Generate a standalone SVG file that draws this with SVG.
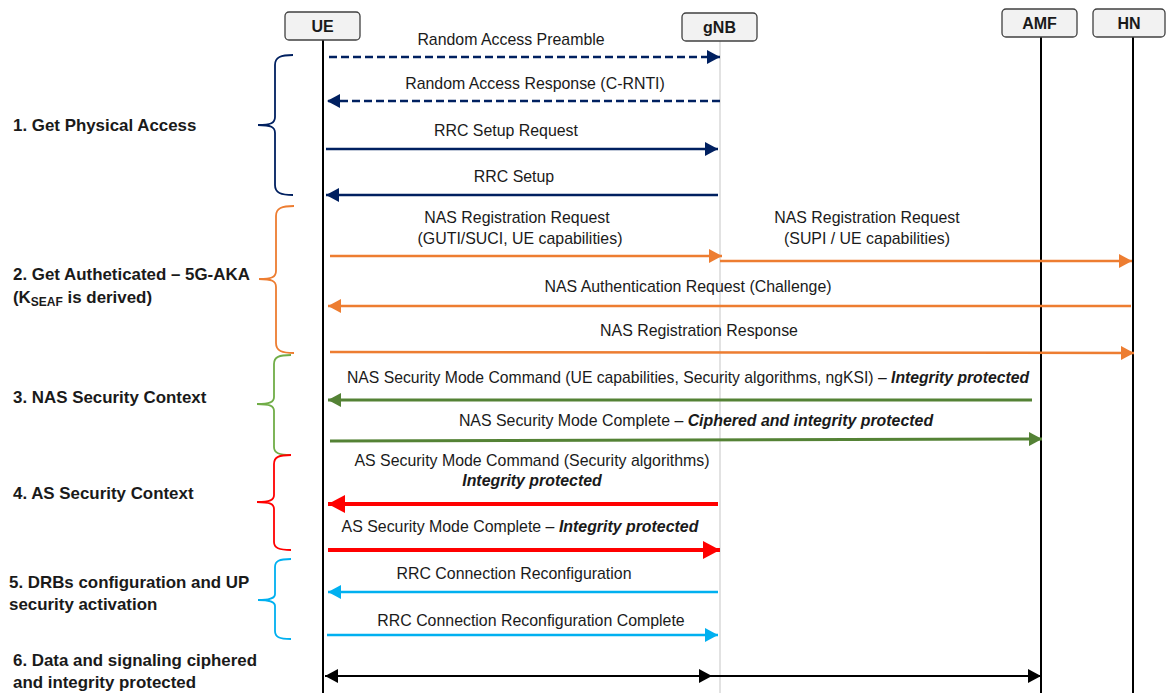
<svg xmlns="http://www.w3.org/2000/svg" width="1166" height="693" viewBox="0 0 1166 693">
  <defs>
    <marker id="ahNavy" markerUnits="userSpaceOnUse" markerWidth="14" markerHeight="14" refX="13" refY="7" orient="auto"><path d="M0,0 L13,7 L0,14 Z" fill="#002060"/></marker>
    <marker id="ahOrange" markerUnits="userSpaceOnUse" markerWidth="14" markerHeight="14" refX="13" refY="7" orient="auto"><path d="M0,0 L13,7 L0,14 Z" fill="#ed7d31"/></marker>
    <marker id="ahGreen" markerUnits="userSpaceOnUse" markerWidth="14" markerHeight="14" refX="13" refY="7" orient="auto"><path d="M0,0 L13,7 L0,14 Z" fill="#548235"/></marker>
    <marker id="ahRed" markerUnits="userSpaceOnUse" markerWidth="18" markerHeight="18" refX="17" refY="9" orient="auto"><path d="M0,0 L17,9 L0,18 Z" fill="#ff0000"/></marker>
    <marker id="ahBlue" markerUnits="userSpaceOnUse" markerWidth="14" markerHeight="14" refX="13" refY="7" orient="auto"><path d="M0,0 L13,7 L0,14 Z" fill="#00b0f0"/></marker>
    <marker id="ahBlack" markerUnits="userSpaceOnUse" markerWidth="14" markerHeight="14" refX="13" refY="7" orient="auto-start-reverse"><path d="M0,0 L13,7 L0,14 Z" fill="#000000"/></marker>
  </defs>
  <style>
    text { font-family: "Liberation Sans", Arial, sans-serif; fill: #1a1a1a; }
    .msg { font-size: 15.9px; text-anchor: middle; }
    .bi { font-weight: bold; font-style: italic; }
    .phase { font-size: 16.9px; font-weight: bold; }
    .head { font-size: 16px; font-weight: bold; text-anchor: middle; }
    .box { fill: #f2f2f2; stroke: #404040; stroke-width: 1.3; }
    .life { stroke: #000000; stroke-width: 2; }
    .lifeGray { stroke: #d9d9d9; stroke-width: 1.5; }
    .brace { fill: none; stroke-width: 1.8; }
    .a { fill: none; }
    .navy { stroke: #002060; stroke-width: 2.5; marker-end: url(#ahNavy); }
    .dash { stroke-dasharray: 8 4; }
    .orange { stroke: #ed7d31; stroke-width: 2.5; marker-end: url(#ahOrange); }
    .green { stroke: #548235; stroke-width: 3; marker-end: url(#ahGreen); }
    .red { stroke: #ff0000; stroke-width: 4; marker-end: url(#ahRed); }
    .blue { stroke: #00b0f0; stroke-width: 2.5; marker-end: url(#ahBlue); }
    .black { stroke: #000000; stroke-width: 2; marker-end: url(#ahBlack); }
  </style>

  <rect width="1166" height="693" fill="#ffffff"/>

  <!-- lifelines -->
  <g id="lifelines">
    <line class="life" x1="323" y1="40" x2="323" y2="693"/>
    <line class="lifeGray" x1="720" y1="41" x2="720" y2="693"/>
    <line class="life" x1="1041" y1="37" x2="1041" y2="693"/>
    <line class="life" x1="1133" y1="37" x2="1133" y2="693"/>
  </g>

  <!-- participants -->
  <g id="ue"><rect class="box" x="285" y="12" width="75" height="28" rx="4"/><text class="head" x="322.5" y="32">UE</text></g>
  <g id="gnb"><rect class="box" x="682" y="13" width="75" height="28" rx="4"/><text class="head" x="719.5" y="33">gNB</text></g>
  <g id="amf"><rect class="box" x="1002" y="9" width="75" height="28" rx="4"/><text class="head" x="1039.5" y="29">AMF</text></g>
  <g id="hn"><rect class="box" x="1093" y="9" width="72" height="28" rx="4"/><text class="head" x="1129" y="29">HN</text></g>

  <!-- phase braces and labels -->
  <g id="phase1">
    <path class="brace" stroke="#002060" d="M293,55 C281,55 275,57 275,65 L275,117 C275,123 271,125 258,125 C271,125 275,127 275,133 L275,185 C275,193 281,195 293,195"/>
    <text class="phase" x="13" y="131">1. Get Physical Access</text>
  </g>
  <g id="phase2">
    <path class="brace" stroke="#ed7d31" d="M294,206 C282,206 276,208 276,216 L276,271 C276,277 272,279 259,279 C272,279 276,281 276,287 L276,343 C276,351 282,353 294,353"/>
    <text class="phase" x="13" y="280">2. Get Autheticated – 5G-AKA</text>
    <text class="phase" x="13" y="303">(K<tspan font-size="12" dy="3">SEAF</tspan><tspan dy="-3"> is derived)</tspan></text>
  </g>
  <g id="phase3">
    <path class="brace" stroke="#70ad47" d="M291,355 C279,355 274,357 274,364 L274,397 C274,402 270,404 257,404 C270,404 274,406 274,411 L274,447 C274,453 279,455 291,455"/>
    <text class="phase" x="13" y="403">3. NAS Security Context</text>
  </g>
  <g id="phase4">
    <path class="brace" stroke="#ff0000" d="M291,455 C279,455 274,457 274,464 L274,495 C274,500 270,502 257,502 C270,502 274,504 274,509 L274,542 C274,548 279,550 291,550"/>
    <text class="phase" x="13" y="499">4. AS Security Context</text>
  </g>
  <g id="phase5">
    <path class="brace" stroke="#00b0f0" d="M291,559 C279,559 275,561 275,567 L275,594 C275,598 271,600 258,600 C271,600 275,602 275,606 L275,631 C275,637 279,639 291,639"/>
    <text class="phase" x="9" y="588">5. DRBs configuration and UP</text>
    <text class="phase" x="9" y="610">security activation</text>
  </g>
  <g id="phase6">
    <text class="phase" x="13" y="666">6. Data and signaling ciphered</text>
    <text class="phase" x="13" y="688">and integrity protected</text>
  </g>

  <!-- message connectors -->
  <g id="connectors">
    <line class="a navy dash" x1="329" y1="57" x2="720" y2="57"/>
    <line class="a navy dash" x1="720" y1="101" x2="327" y2="101"/>
    <line class="a navy" x1="326" y1="149" x2="718" y2="149"/>
    <line class="a navy" x1="718" y1="195" x2="326" y2="195"/>
    <line class="a orange" x1="330" y1="256" x2="722" y2="256"/>
    <line class="a orange" x1="720" y1="261" x2="1132" y2="261"/>
    <line class="a orange" x1="1131" y1="306" x2="328" y2="306"/>
    <line class="a orange" x1="330" y1="352" x2="1134" y2="353"/>
    <line class="a green" x1="1032" y1="400" x2="328" y2="400"/>
    <line class="a green" x1="330" y1="441" x2="1042" y2="439"/>
    <line class="a red" x1="718" y1="504" x2="328" y2="504"/>
    <line class="a red" x1="328" y1="550" x2="720" y2="550"/>
    <line class="a blue" x1="718" y1="592" x2="328" y2="592"/>
    <line class="a blue" x1="327" y1="635" x2="718" y2="635"/>
    <line class="a black" x1="325" y1="676" x2="712" y2="676" style="marker-start:url(#ahBlack)"/>
    <line class="a black" x1="712" y1="676" x2="1041" y2="676"/>
  </g>

  <!-- message labels -->
  <g id="labels">
    <text class="msg" x="511" y="45">Random Access Preamble</text>
    <text class="msg" x="535" y="89">Random Access Response (C-RNTI)</text>
    <text class="msg" x="506" y="136">RRC Setup Request</text>
    <text class="msg" x="514" y="182">RRC Setup</text>
    <text class="msg" x="517" y="223">NAS Registration Request</text>
    <text class="msg" x="520" y="244">(GUTI/SUCI, UE capabilities)</text>
    <text class="msg" x="867" y="223">NAS Registration Request</text>
    <text class="msg" x="867" y="244">(SUPI / UE capabilities)</text>
    <text class="msg" x="688" y="292">NAS Authentication Request (Challenge)</text>
    <text class="msg" x="699" y="336">NAS Registration Response</text>
    <text class="msg" x="688" y="383" textLength="682" lengthAdjust="spacingAndGlyphs">NAS Security Mode Command (UE capabilities, Security algorithms, ngKSI) – <tspan class="bi">Integrity protected</tspan></text>
    <text class="msg" x="696" y="426">NAS Security Mode Complete – <tspan class="bi">Ciphered and integrity protected</tspan></text>
    <text class="msg" x="532" y="466">AS Security Mode Command (Security algorithms)</text>
    <text class="msg bi" x="532" y="486">Integrity protected</text>
    <text class="msg" x="520" y="532">AS Security Mode Complete – <tspan class="bi">Integrity protected</tspan></text>
    <text class="msg" x="514" y="579">RRC Connection Reconfiguration</text>
    <text class="msg" x="531" y="626">RRC Connection Reconfiguration Complete</text>
  </g>
</svg>
